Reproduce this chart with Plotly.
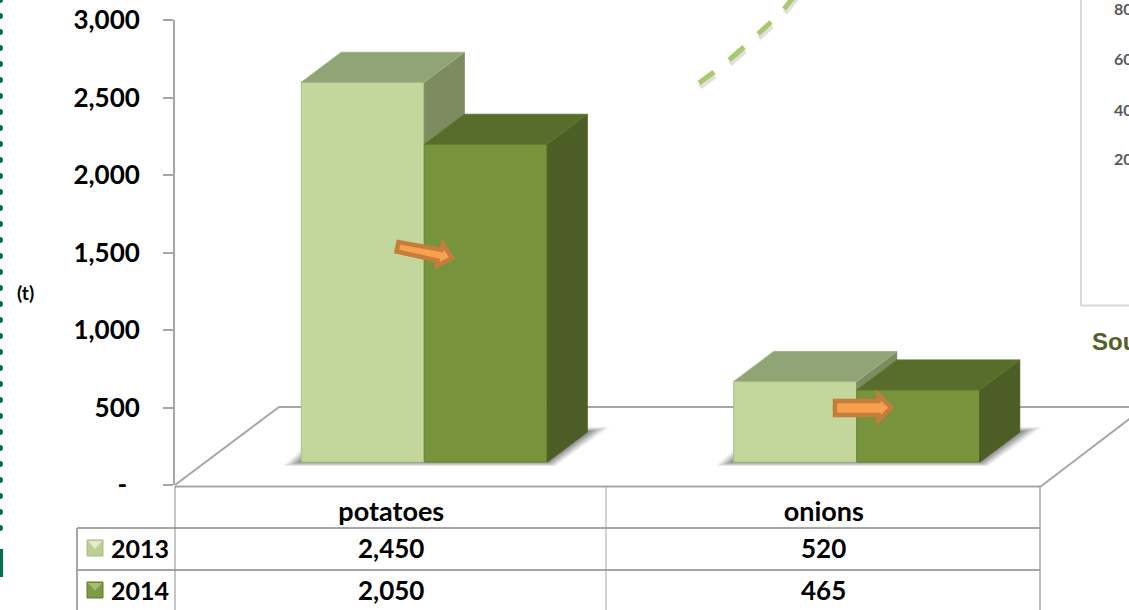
import plotly.graph_objects as go

# ---- data ----
categories = ["potatoes", "onions"]
years = ["2013", "2014"]
values_2013 = [2450, 520]
values_2014 = [2050, 465]
table_2013 = ["2,450", "520"]
table_2014 = ["2,050", "465"]
y_ticks = [0, 500, 1000, 1500, 2000, 2500, 3000]
y_labels = ["-\u00a0\u00a0", "500", "1,000", "1,500", "2,000", "2,500", "3,000"]
inset_labels = ["800", "600", "400", "200"]

W, H = 1129, 610
L, T, B = 175, 20, 125
PW, PH = W - L, H - T - B
CAT_PX = 432.5
PX_PER_UNIT = PH / 3000

FONT = "Lato"
GRID = "#A6A6A6"

def xp(px):
    return (px - L) / PW
def yp(py):
    return (T + PH - py) / PH

depth_x = 40 / CAT_PX
depth_y = 30 / PX_PER_UNIT
floor_base = 23 / PX_PER_UNIT
bar_w = 123 / CAT_PX
off_light = (300.5 - 390.5) / CAT_PX
off_dark = off_light + bar_w

fig = go.Figure()
xs = list(range(len(categories)))

# front faces
fig.add_bar(x=xs, y=values_2013, base=floor_base, width=bar_w, offset=off_light, name=years[0],
            marker=dict(color="#C3D69B", line=dict(color="#A9BE82", width=1)), hoverinfo="skip")
fig.add_bar(x=xs, y=values_2014, base=floor_base, width=bar_w, offset=off_dark, name=years[1],
            marker=dict(color="#77933C", line=dict(color="#67822F", width=1)), hoverinfo="skip")

def poly_trace(px_list, py_list, color, edge=None):
    fig.add_scatter(x=px_list, y=py_list, mode="lines", fill="toself", fillcolor=color,
                    line=dict(color=edge or color, width=1), hoverinfo="skip",
                    showlegend=False, cliponaxis=False)

# light series: side (stops at the neighbouring dark top) and top
sx, sy, tx, ty = [], [], [], []
for i in xs:
    v = values_2013[i] + floor_base
    d = values_2014[i] + floor_base
    x1 = i + off_light + bar_w
    x0 = i + off_light
    sx += [x1, x1 + depth_x, x1 + depth_x, x1, x1, None]
    sy += [v, v + depth_y, d + depth_y, d, v, None]
    tx += [x0, x0 + depth_x, x1 + depth_x, x1, x0, None]
    ty += [v, v + depth_y, v + depth_y, v, v, None]
poly_trace(sx, sy, "#7C8C5F")
poly_trace(tx, ty, "#90A475", "#A3B58A")

# dark series: side and top
sx, sy, tx, ty = [], [], [], []
for i in xs:
    d = values_2014[i] + floor_base
    x0 = i + off_dark
    x1 = x0 + bar_w
    sx += [x1, x1 + depth_x, x1 + depth_x, x1, x1, None]
    sy += [d, d + depth_y, floor_base + depth_y, floor_base, d, None]
    tx += [x0, x0 + depth_x, x1 + depth_x, x1, x0, None]
    ty += [d, d + depth_y, d + depth_y, d, d, None]
poly_trace(sx, sy, "#4C5E25")
poly_trace(tx, ty, "#586C2C", "#5F7A2E")

shapes = []

def line_px(x0, y0, x1, y1, color=GRID, width=2):
    shapes.append(dict(type="line", xref="paper", yref="paper", x0=xp(x0), y0=yp(y0),
                       x1=xp(x1), y1=yp(y1), line=dict(color=color, width=width)))

def path_px(points, fill, stroke=None, width=0, layer="above"):
    d = "M " + " L ".join(f"{xp(a):.5f},{yp(b):.5f}" for a, b in points) + " Z"
    shapes.append(dict(type="path", xref="paper", yref="paper", path=d, fillcolor=fill, layer=layer,
                       line=dict(color=stroke or fill, width=width)))

# dotted border on the page edge
for k in range(34):
    cy = 16 * k
    shapes.append(dict(type="circle", xref="paper", yref="paper", x0=xp(-3), x1=xp(3),
                       y0=yp(cy + 3), y1=yp(cy - 3), fillcolor="#00704F", line=dict(width=0)))

# floor of the 3D box
for seg in [((175, 485), (279, 407)), ((279, 407), (1129, 407)), ((1040, 487), (1145, 407))]:
    (a, b), (c, d) = seg
    shapes.append(dict(type="line", xref="paper", yref="paper", layer="below",
                       x0=xp(a), y0=yp(b), x1=xp(c), y1=yp(d), line=dict(color=GRID, width=2)))

# shadows under the bars
for i in xs:
    x0 = i + off_light
    x1 = x0 + 2 * bar_w
    for grow, alpha in ((1.0, 0.10), (0.8, 0.13), (0.6, 0.17), (0.4, 0.22), (0.2, 0.26)):
        left = 18 * grow / CAT_PX
        right = 22 * grow / CAT_PX
        drop = 4 * grow / PX_PER_UNIT
        pts = [(x0, floor_base + 12 * grow / PX_PER_UNIT),
               (x0 - left, floor_base - drop),
               (x1 + 8 * grow / CAT_PX, floor_base - drop),
               (x1 + depth_x + right, floor_base + depth_y + 5 * grow / PX_PER_UNIT),
               (x1 + depth_x, floor_base + depth_y + 5 * grow / PX_PER_UNIT),
               (x1, floor_base)]
        path = "M " + " L ".join(f"{a:.5f},{b:.3f}" for a, b in pts) + " Z"
        shapes.append(dict(type="path", xref="x", yref="y", path=path, layer="below",
                           fillcolor=f"rgba(80,80,80,{alpha})", line=dict(width=0)))

# table rules
line_px(175, 486.5, 1040, 486.5)
for y in (528, 570):
    line_px(77, y, 1040, y)
line_px(77, 528, 77, 610)
line_px(175, 486, 175, 610, "#8C8C8C", 1)
line_px(606, 487, 606, 610, GRID, 1)
line_px(1040, 487, 1040, 610, GRID, 1.5)

# legend keys
for cy, body, hi, lo in ((548, "#BCCF96", "#E2EBCF", "#A9BB84"), (590, "#7E9A45", "#A5BD70", "#5F7A2B")):
    path_px([(87, cy - 8), (103, cy - 8), (103, cy + 8), (87, cy + 8)], body, lo, 1)
    path_px([(88, cy - 7), (102, cy - 7), (95, cy + 1)], hi)

# arrows
for pts in ([(398.5, 242), (396.5, 251.5), (437.5, 260.5), (437, 266), (452, 258), (443, 244), (441.5, 250)],
            [(835, 401), (835, 415), (878.5, 415), (878.5, 420.5), (891, 407.7), (878.5, 395), (878.5, 401)]):
    path_px(pts, "#F9A04E", "#C47D3A", 4.5)

# dashed curve and its soft shadow
dashes = [((699, 83), (714, 72)), ((729, 60), (744, 47)), ((758, 34), (771, 22)), ((784, 9), (796, -6))]
for (a, b), (c, d) in dashes:
    line_px(a + 1, b + 4, c + 1, d + 4, "rgba(130,130,130,0.25)", 5)
for (a, b), (c, d) in dashes:
    line_px(a, b, c, d, "#A9C96B", 5)

# inset chart frame at right
line_px(1081, 0, 1081, 306, "#D9D9D9", 2)
line_px(1081, 305.5, 1129, 305.5, "#D9D9D9", 2)

# green block on the page edge
path_px([(0, 549), (3, 549), (3, 577), (0, 577)], "#00704F")

annotations = []

def note(x, y, text, size=26, color="#000000", family=FONT, bold=True, anchor="center", xref="x"):
    annotations.append(dict(x=x, y=y, xref=xref, yref="paper", text=f"<b>{text}</b>" if bold else text,
                            showarrow=False, xanchor=anchor, yanchor="middle",
                            font=dict(size=size, color=color, family=family)))

for i in xs:
    note(i, yp(548), table_2013[i])
    note(i, yp(590), table_2014[i])
note(xp(109), yp(548), years[0], anchor="left", xref="paper", size=25)
note(xp(109), yp(590), years[1], anchor="left", xref="paper", size=25)
note(xp(15), yp(292), "(t)", size=19, anchor="left", xref="paper")
note(xp(1090), yp(341), "Source", size=24, color="#4F6228", family="Liberation Sans", anchor="left", xref="paper")
for lab, py in zip(inset_labels, (9, 59, 109, 158)):
    note(xp(1112), yp(py), lab, size=16, color="#595959", anchor="left", xref="paper")

fig.update_layout(
    width=W, height=H, margin=dict(l=L, r=0, t=T, b=B), paper_bgcolor="white", plot_bgcolor="white",
    barmode="overlay", showlegend=False, shapes=shapes, annotations=annotations,
    font=dict(family=FONT, color="#000000"),
    xaxis=dict(range=[-0.5, -0.5 + PW / CAT_PX], tickmode="array", tickvals=xs, ticktext=categories,
               ticks="", showgrid=False, zeroline=False, showline=False, ticklabelstandoff=8,
               tickfont=dict(size=27, family=FONT, color="#000000", weight="bold")),
    yaxis=dict(range=[0, 3000], tickmode="array", tickvals=y_ticks, ticktext=y_labels, ticks="outside",
               ticklen=10, tickcolor=GRID, tickwidth=1.5, showgrid=False, zeroline=False, showline=True,
               linecolor=GRID, linewidth=2, ticklabelstandoff=18,
               tickfont=dict(size=26, family=FONT, color="#000000", weight="bold")),
)
fig.write_html("out.html", config=dict(displayModeBar=False),
               post_script="document.body.style.margin='0';document.body.style.overflow='hidden';")
